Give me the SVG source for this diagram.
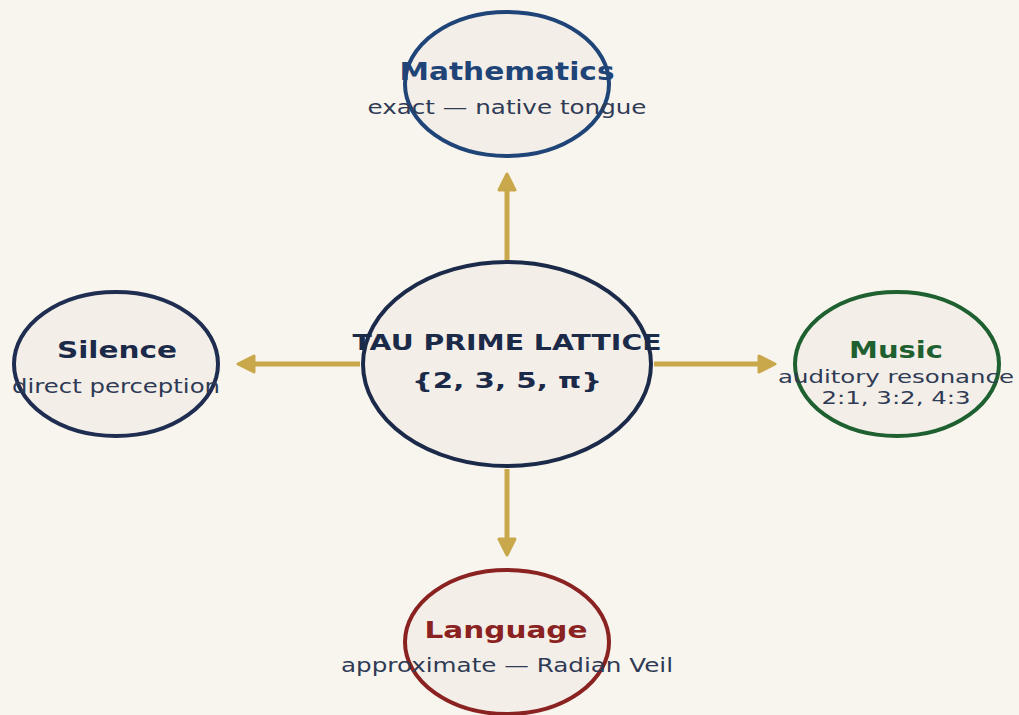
<svg xmlns="http://www.w3.org/2000/svg" width="1019" height="715" viewBox="0 0 1019 715">
<defs>
<style>
.node{fill:#f3efe8;stroke-width:4}
.title{font-family:"DejaVu Sans",sans-serif;font-weight:bold;text-anchor:middle}
.sub{font-family:"DejaVu Sans",sans-serif;fill:#2f3a55;text-anchor:middle;font-size:20px}
.sub.tight{font-size:17px}
.conn{stroke:#c9a84c;stroke-width:5;fill:none;stroke-linecap:butt}
</style>
<marker id="ah" viewBox="0 0 20 20" refX="10" refY="10" markerWidth="20" markerHeight="20" markerUnits="userSpaceOnUse" orient="auto">
<path d="M2,2 L18,10 L2,18 Z" fill="#c9a84c" stroke="#c9a84c" stroke-width="3" stroke-linejoin="round"/>
</marker>
</defs>
<rect width="1019" height="715" fill="#f8f5ee"/>
<g id="connectors">
<line class="conn" x1="507" y1="260" x2="507" y2="182" marker-end="url(#ah)"/>
<line class="conn" x1="507" y1="469" x2="507" y2="547" marker-end="url(#ah)"/>
<line class="conn" x1="360" y1="364" x2="246" y2="364" marker-end="url(#ah)"/>
<line class="conn" x1="654" y1="364" x2="767" y2="364" marker-end="url(#ah)"/>
</g>
<g id="center">
<ellipse class="node" cx="507" cy="364" rx="144" ry="102" stroke="#1c2a4a" stroke-width="6"/>
<text class="title" x="507" y="350" font-size="22" fill="#1c2a4a" textLength="309" lengthAdjust="spacingAndGlyphs">TAU PRIME LATTICE</text>
<text class="title" x="507" y="388" font-size="22" fill="#1c2a4a" textLength="190" lengthAdjust="spacingAndGlyphs">{2, 3, 5, π}</text>
</g>
<g id="mathematics">
<ellipse class="node" cx="507" cy="84" rx="102" ry="72" stroke="#1f4477"/>
<text class="title" x="507" y="80" font-size="24" fill="#1f4477" textLength="215" lengthAdjust="spacingAndGlyphs">Mathematics</text>
<text class="sub" x="507" y="114" textLength="279" lengthAdjust="spacingAndGlyphs">exact — native tongue</text>
</g>
<g id="silence">
<ellipse class="node" cx="116" cy="364" rx="102" ry="72" stroke="#1f2d50"/>
<text class="title" x="117" y="358" font-size="23" fill="#1c2a4a" textLength="120" lengthAdjust="spacingAndGlyphs">Silence</text>
<text class="sub" x="116" y="393" textLength="208" lengthAdjust="spacingAndGlyphs">direct perception</text>
</g>
<g id="music">
<ellipse class="node" cx="897" cy="364" rx="102" ry="72" stroke="#1e6030"/>
<text class="title" x="896" y="358" font-size="23" fill="#1e6030" textLength="94" lengthAdjust="spacingAndGlyphs">Music</text>
<text class="sub tight" x="896" y="383" textLength="236" lengthAdjust="spacingAndGlyphs">auditory resonance</text>
<text class="sub tight" x="896" y="404" textLength="149" lengthAdjust="spacingAndGlyphs">2:1, 3:2, 4:3</text>
</g>
<g id="language">
<ellipse class="node" cx="507" cy="642" rx="102" ry="72" stroke="#8b2222"/>
<text class="title" x="506" y="638" font-size="23" fill="#8b2222" textLength="163" lengthAdjust="spacingAndGlyphs">Language</text>
<text class="sub" x="507" y="672" textLength="332" lengthAdjust="spacingAndGlyphs">approximate — Radian Veil</text>
</g>
</svg>
